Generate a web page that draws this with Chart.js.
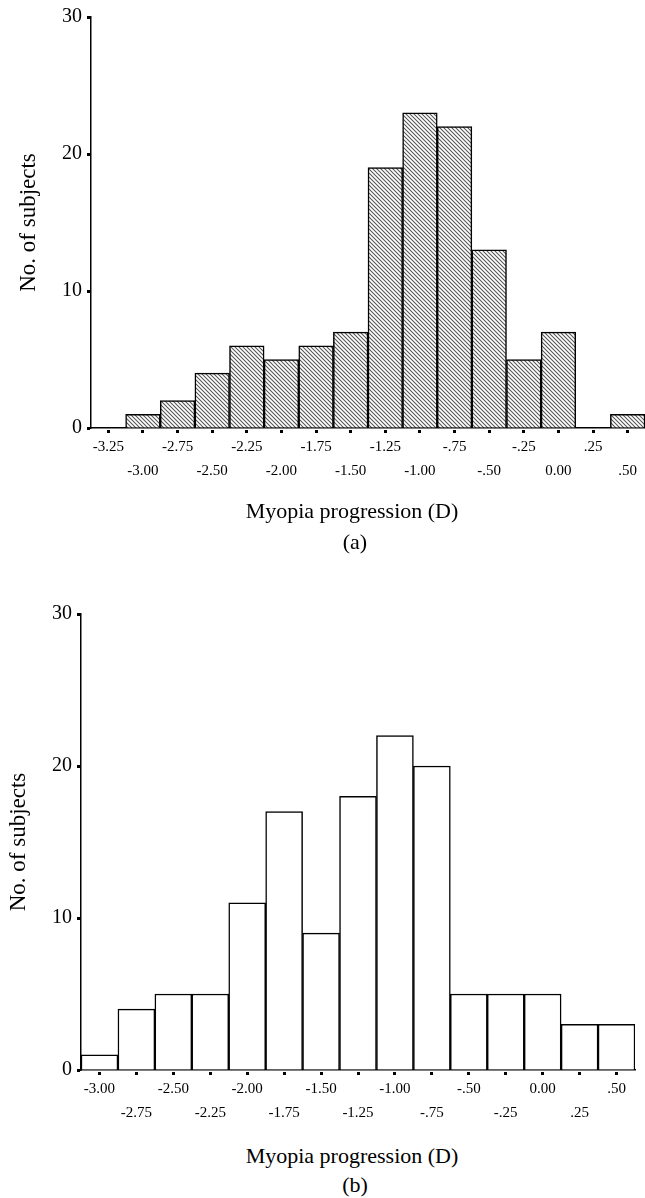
<!DOCTYPE html>
<html>
<head>
<meta charset="utf-8">
<script src="https://cdn.jsdelivr.net/npm/chart.js@4"></script>
<style>
  html, body { margin: 0; padding: 0; background: #fff; overflow: hidden; }
  #page { position: relative; width: 645px; height: 1198px; }
  canvas { position: absolute; left: 0; }
  .cap {
    position: absolute; left: 152px; width: 400px; text-align: center;
    font-family: 'Liberation Serif', 'DejaVu Serif', serif; font-size: 22px;
    line-height: 30px; height: 30px; white-space: nowrap; color: #000;
  }
</style>
</head>
<body>
<div id="page">
  <canvas id="Chart1" width="645" height="500" style="top:0px"></canvas>
  <div class="cap" style="top:496px">Myopia progression (D)</div>
  <div class="cap" style="top:527px;left:155px">(a)</div>
  <canvas id="Chart2" width="645" height="560" style="top:580px"></canvas>
  <div class="cap" style="top:1141px">Myopia progression (D)</div>
  <div class="cap" style="top:1170px;left:155px">(b)</div>
</div>
<script>
// bin centres (D) and number of subjects
const binsA = ['-3.25', '-3.00', '-2.75', '-2.50', '-2.25', '-2.00', '-1.75', '-1.50',
               '-1.25', '-1.00', '-.75', '-.50', '-.25', '0.00', '.25', '.50'];
const countsA = [0, 1, 2, 4, 6, 5, 6, 7, 19, 23, 22, 13, 5, 7, 0, 1];

const binsB = ['-3.00', '-2.75', '-2.50', '-2.25', '-2.00', '-1.75', '-1.50', '-1.25',
               '-1.00', '-.75', '-.50', '-.25', '0.00', '.25', '.50'];
const countsB = [1, 4, 5, 5, 11, 17, 9, 18, 22, 20, 5, 5, 5, 3, 3];

const yTicks = [0, 10, 20, 30];
const yTitle = 'No. of subjects';

const serif = "'Liberation Serif', 'DejaVu Serif', serif";

// diagonal hatch used for panel (a)
function hatch() {
  const tile = document.createElement('canvas');
  tile.width = 4;
  tile.height = 4;
  const c = tile.getContext('2d');
  c.fillStyle = '#fff';
  c.fillRect(0, 0, 4, 4);
  c.strokeStyle = '#555';
  c.lineWidth = 1.05;
  c.beginPath();
  c.moveTo(-1, -1); c.lineTo(5, 5);
  c.moveTo(-1, 3); c.lineTo(1, 5);
  c.moveTo(3, -1); c.lineTo(5, 1);
  c.stroke();
  return c.createPattern(tile, 'repeat');
}

function histogram(chartID, bins, counts, fill, o) {
  const ctx = document.getElementById(chartID).getContext('2d');
  return new Chart(ctx, {
    type: 'bar',
    data: {
      labels: bins,
      datasets: [{
        data: counts,
        backgroundColor: fill,
        borderColor: '#000',
        borderWidth: 1.5,
        barPercentage: 1,
        categoryPercentage: 1
      }]
    },
    options: {
      responsive: false,
      animation: false,
      devicePixelRatio: 1,
      layout: { padding: { top: o.top, right: o.right, bottom: 0, left: 0 } },
      plugins: { legend: { display: false }, tooltip: { enabled: false } },
      scales: {
        x: {
          offset: true,
          afterFit: function(scale) { scale.height = o.xHeight; },
          border: { display: true, color: '#000', width: 1.5 },
          grid: {
            offset: false,
            drawOnChartArea: false,
            drawTicks: true,
            tickLength: 5,
            tickWidth: 3,
            tickColor: '#000',
            tickBorderDash: [0, 1.5, 3, 40]
          },
          ticks: {
            autoSkip: false,
            maxRotation: 0,
            minRotation: 0,
            padding: 2,
            color: '#000',
            font: { family: serif, size: 15, lineHeight: 1.6 },
            // every other label goes on the second row
            callback: function(value, index) {
              return index % 2 === 0 ? bins[index] : ['', bins[index]];
            }
          }
        },
        y: {
          min: 0,
          max: 30,
          afterFit: function(scale) { scale.width = o.axisX; },
          afterBuildTicks: function(scale) {
            scale.ticks = yTicks.map(v => ({ value: v }));
          },
          border: { display: true, color: '#000', width: 1.5 },
          grid: {
            drawOnChartArea: false,
            drawTicks: true,
            tickLength: 4,
            tickWidth: 3,
            tickColor: '#000'
          },
          ticks: {
            padding: 5,
            color: '#000',
            font: { family: serif, size: 20 }
          },
          title: {
            display: true,
            text: yTitle,
            color: '#000',
            font: { family: serif, size: 23 },
            padding: { top: o.axisX - 62 - 14, bottom: 0 }
          }
        }
      }
    }
  });
}

histogram('Chart1', binsA, countsA, hatch(), { top: 17, right: 0, xHeight: 72, axisX: 91 });
histogram('Chart2', binsB, countsB, '#fff', { top: 34, right: 10, xHeight: 70, axisX: 81 });
</script>
</body>
</html>
